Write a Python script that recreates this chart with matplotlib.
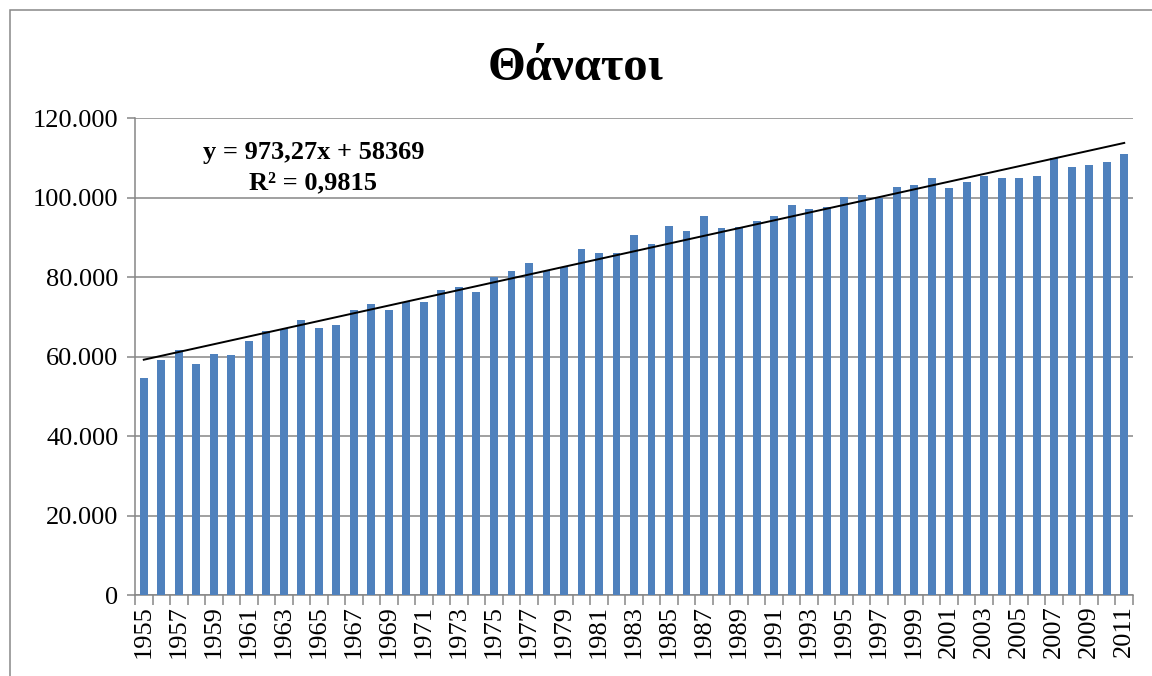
import matplotlib
matplotlib.use('Agg')
import matplotlib.pyplot as plt
import numpy as np
from matplotlib.ticker import FuncFormatter
from matplotlib.patches import Rectangle

# deaths per year
years = list(range(1955, 2012))
deaths = [54700, 59300, 61700, 58100, 60800, 60500, 63900, 66400, 66900, 69400,
          67300, 67900, 71900, 73200, 71800, 73900, 73900, 76700, 77600, 76200,
          80000, 81700, 83700, 81700, 82500, 87200, 86200, 86100, 90600, 88400,
          92900, 91700, 95500, 92400, 92600, 94200, 95500, 98100, 97300, 97800,
          100100, 100700, 99900, 102700, 103200, 105000, 102500, 104000, 105600,
          104900, 105100, 105400, 109900, 107800, 108300, 109000, 111000]
title = 'Θάνατοι'
eq_text = 'y = 973,27x + 58369'
r2_text = 'R² = 0,9815'

plt.rcParams['font.family'] = ['Liberation Serif', 'DejaVu Serif']

fig = plt.figure(figsize=(11.52, 6.76), dpi=100)
ax = fig.add_axes([0.1172, 0.1191, 0.8663, 0.7059])

x = np.arange(len(years))
ax.bar(x, deaths, width=0.45, color='#4F81BD', zorder=3)

# linear trendline (excel style, x = 1..n)
coef = np.polyfit(x + 1, deaths, 1)
ax.plot(x, np.polyval(coef, x + 1), color='black', lw=1.4, zorder=4)

ax.set_xlim(-0.5, len(years) - 0.5)
ax.set_ylim(0, 120000)
ax.set_yticks(np.arange(0, 120001, 20000))
ax.yaxis.set_major_formatter(FuncFormatter(lambda v, p: '0' if v == 0 else '{:,.0f}'.format(v).replace(',', '.')))
ax.grid(axis='y', color='#868686', lw=1.1, zorder=0)

ax.set_xticks(x[::2])
ax.set_xticklabels([str(y) for y in years[::2]], rotation=90)
ax.set_xticks(np.arange(-0.5, len(years), 1), minor=True)
ax.tick_params(axis='x', which='major', length=0, pad=7, labelsize=19)
ax.tick_params(axis='x', which='minor', length=7, color='#868686', width=1.1)
ax.tick_params(axis='y', length=6, color='#868686', width=1.1, labelsize=19, pad=6)

for s in ['top', 'right']:
    ax.spines[s].set_visible(False)
ax.spines['left'].set_color('#868686')
ax.spines['bottom'].set_color('#868686')
ax.spines['left'].set_linewidth(1.1)
ax.spines['bottom'].set_linewidth(1.1)

fig.text(0.5, 0.9, title, ha='center', va='center', fontsize=35, fontweight='bold')
fig.text(0.272, 0.774, eq_text, ha='center', va='center', fontsize=19, fontweight='bold')
fig.text(0.272, 0.729, r2_text, ha='center', va='center', fontsize=19, fontweight='bold')

fig.patches.append(Rectangle((10 / 1152, -0.1), 1.2, 1.1 - 10 / 676, transform=fig.transFigure,
                             fill=False, edgecolor='#888888', lw=1.1))

fig.savefig('out.png', dpi=100)
